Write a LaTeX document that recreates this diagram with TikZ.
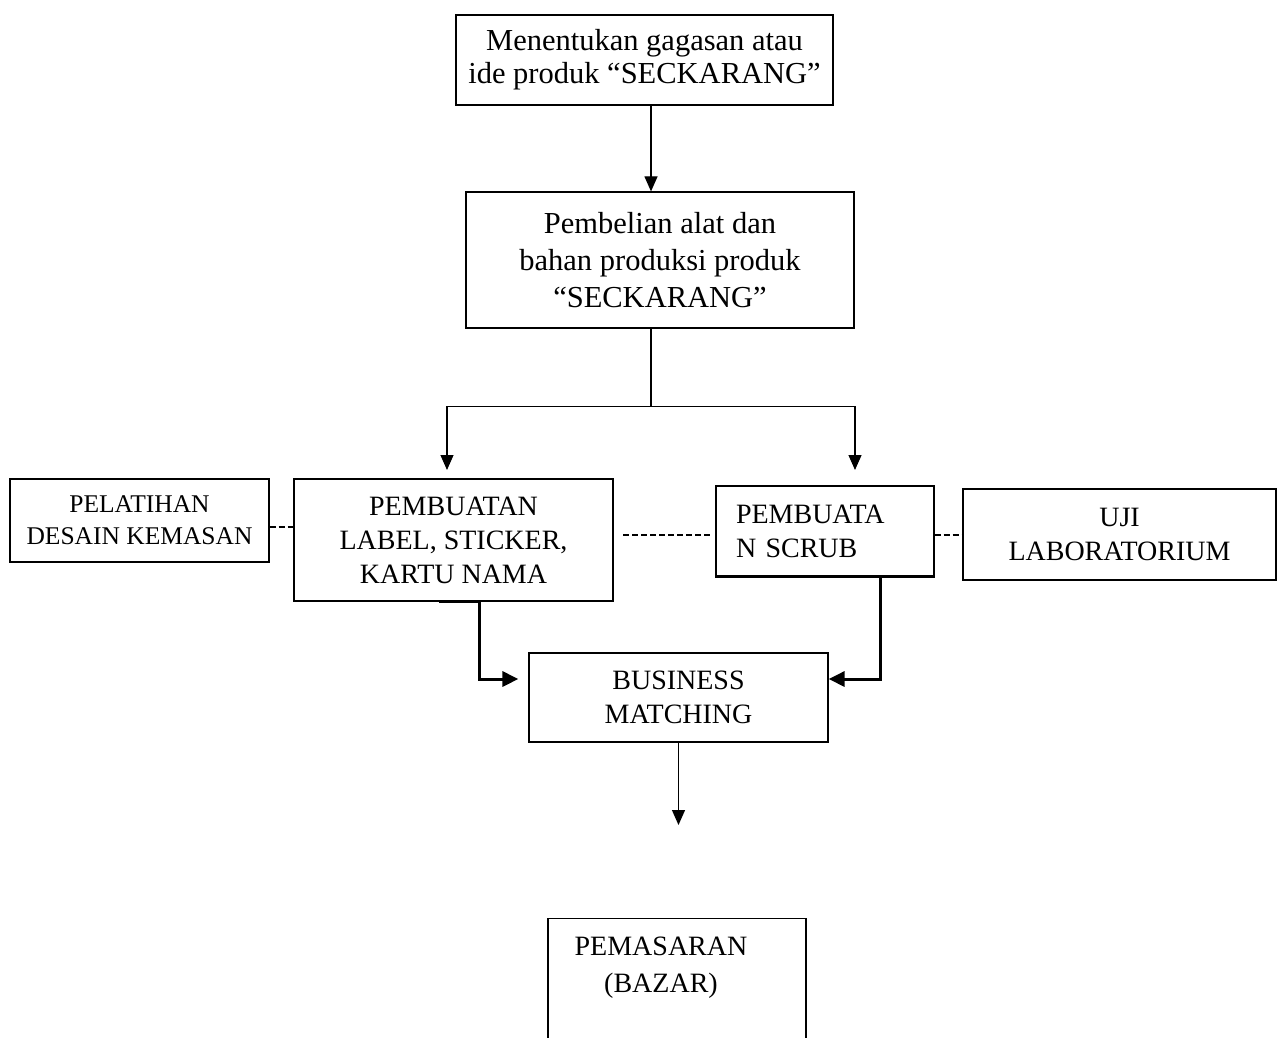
\documentclass[tikz,border=0pt]{standalone}
\usepackage{fontspec}
\setmainfont{Liberation Serif}
\usetikzlibrary{arrows.meta, positioning}

\begin{document}
\begin{tikzpicture}[x=1pt, y=-1pt,
    box/.style={draw, line width=1.2pt, inner sep=0pt, align=center},
    bigtext/.style={font=\fontsize{30.5}{37}\selectfont},
    capstext/.style={font=\fontsize{28}{34}\selectfont},
    flow/.style={line width=1.2pt, -{Triangle[length=15pt,width=13pt]}},
    thickflow/.style={line width=3pt, -{Triangle[length=16pt,width=15pt]}},
    link/.style={line width=1.5pt, dash pattern=on 6pt off 3pt}
  ]
  \useasboundingbox (0,0) rectangle (1278,1038);
  \clip (0,0) rectangle (1278,1038);

  % top of the flow
  \node[box, bigtext, minimum width=377, minimum height=90, font=\fontsize{30.5}{33}\selectfont] (ide) at (644.5,60) {Menentukan gagasan atau\\ide produk “SECKARANG”};
  \node[box, bigtext, minimum width=388, minimum height=136] (pembelian) at (660,260) {Pembelian alat dan\\bahan produksi produk\\“SECKARANG”};

  % middle row
  \node[box, minimum width=259, minimum height=83, font=\fontsize{25.5}{32}\selectfont] (pelatihan) at (139.5,520.5) {PELATIHAN\\DESAIN KEMASAN};
  \node[box, capstext, minimum width=319, minimum height=122] (label) at (453.5,540) {PEMBUATAN\\LABEL, STICKER,\\KARTU NAMA};
  \node[box, capstext, minimum width=218, minimum height=90, text width=178, align=left] (scrub) at (825,531) {PEMBUATA\\N SCRUB};
  \node[box, capstext, minimum width=313, minimum height=91] (uji) at (1119.5,534.5) {UJI\\LABORATORIUM};

  % bottom
  \node[box, capstext, minimum width=299, minimum height=89] (match) at (678.5,697.5) {BUSINESS\\MATCHING};
  \node[box, minimum width=258, minimum height=200, anchor=north] (pemasaran) at (677,918) {};
  \node[align=center, inner sep=0pt, font=\fontsize{28}{37}\selectfont] (pemasaranText) at (661,968) {PEMASARAN\\(BAZAR)};

  \coordinate (tipL) at (447,470);
  \coordinate (tipR) at (855,470);
  \coordinate (tipM) at (678.5,825);
  \coordinate (dashL) at (623,535);
  \coordinate (dashR) at (710,535);

  % connectors
  \draw[flow] ([xshift=6.5]ide.south) -- ([xshift=6.5]ide.south |- pembelian.north);
  \draw[line width=1.2pt] ([xshift=-9]pembelian.south) -- ++(0,78) coordinate (split);
  \draw[flow] (split) -| (tipL);
  \draw[flow] (split) -| (tipR);

  \draw[thickflow] ([xshift=-15]label.south) -- ([xshift=26]label.south) |- ([xshift=-10,yshift=18.5]match.west);
  \draw[line width=3pt] (scrub.south west) -- (scrub.south east);
  \draw[thickflow] ([xshift=55]scrub.south) |- ([yshift=18.5]match.east);
  \draw[flow] (match.south) -- (tipM);

  % dashed links
  \path ([yshift=-6.5]pelatihan.east) coordinate (pjoin);
  \path ([yshift=-4]scrub.east) coordinate (sjoin);
  \draw[link] (pjoin) -- (pjoin -| label.west);
  \draw[link] (dashL) -- (dashR);
  \draw[link] (sjoin) -- (sjoin -| uji.west);
\end{tikzpicture}
\end{document}
